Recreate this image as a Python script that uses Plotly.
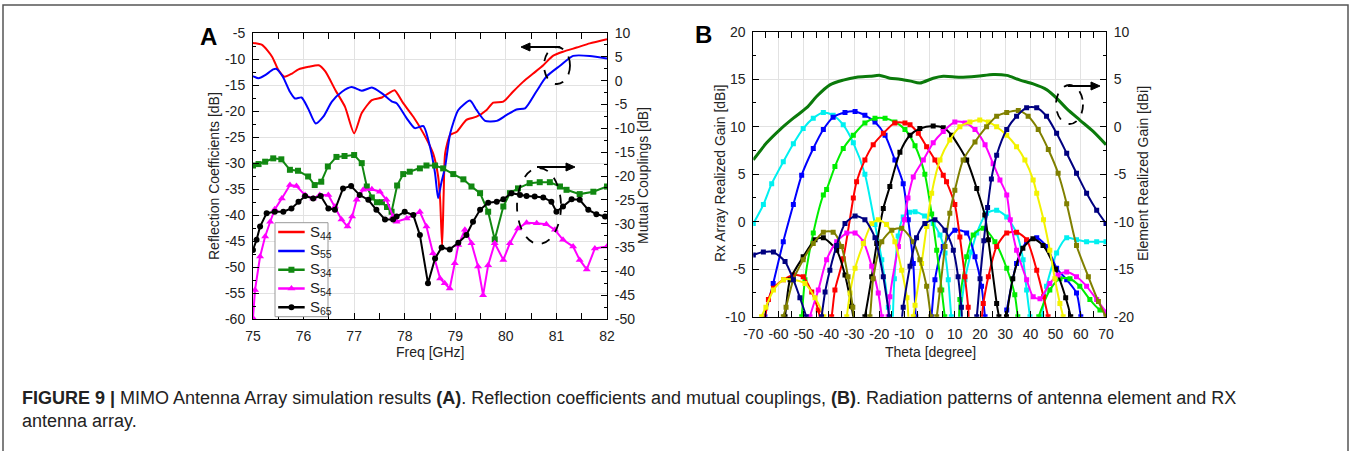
import plotly.graph_objects as go

W, H = 1351, 451

# ---------------- Panel A data ----------------
freq_s44 = [75.0,75.18,75.38,75.5,75.62,75.77,75.9,76.1,76.3,76.43,76.63,76.82,77.0,77.15,77.35,77.55,77.68,77.8,77.97,78.17,
            78.37,78.56,78.66,78.70,78.74,78.77,78.8,78.9,79.03,79.22,79.42,79.62,79.75,79.95,80.14,80.34,80.54,80.74,80.93,81.13,
            81.4,81.66,82.0]
s44 = [-6.9,-7.3,-9.6,-12.1,-13.4,-12.8,-12.0,-11.5,-11.2,-12.4,-16.0,-19.2,-24.3,-20.4,-17.9,-17.4,-16.6,-16.0,-18.5,-21.1,
       -24.3,-28.1,-32.5,-37.0,-46.0,-36.0,-28.1,-24.6,-24.0,-21.7,-21.1,-19.8,-18.4,-18.2,-16.3,-14.4,-12.8,-11.2,-9.4,-8.6,
       -7.8,-7.0,-6.2]

freq_s55 = [75.0,75.11,75.24,75.4,75.46,75.59,75.73,75.83,75.96,76.09,76.24,76.39,76.56,76.76,76.95,77.15,77.35,77.55,77.75,77.84,
            78.04,78.2,78.37,78.5,78.6,78.66,78.72,78.8,78.9,79.06,79.29,79.42,79.59,79.82,80.01,80.21,80.38,80.6,80.8,81.07,
            81.33,81.66,82.0]
s55 = [-13.3,-13.7,-13.1,-12.0,-11.9,-13.4,-16.3,-17.6,-17.4,-19.5,-22.4,-21.1,-18.2,-16.3,-15.4,-16.1,-15.5,-16.6,-18.2,-18.5,
       -21.4,-23.3,-22.9,-26.9,-32.0,-36.8,-34.0,-30.7,-24.3,-19.8,-18.0,-19.8,-21.9,-21.9,-20.8,-19.7,-19.5,-16.3,-13.4,-11.3,
       -9.4,-9.4,-9.9]

freq_s34 = [75.0,75.11,75.24,75.4,75.56,75.73,75.89,76.09,76.22,76.35,76.48,76.65,76.81,77.0,77.15,77.25,77.35,77.45,77.55,77.65,
            77.74,77.85,77.97,78.1,78.3,78.43,78.6,78.76,78.96,79.16,79.32,79.49,79.65,79.78,79.95,80.08,80.24,80.47,80.67,80.87,
            81.07,81.2,81.46,81.73,82.0]
s34 = [-17.8,-17.5,-17.0,-16.3,-16.5,-18.7,-18.9,-20.1,-21.9,-21.2,-18.0,-16.0,-15.8,-15.6,-17.3,-22.2,-24.5,-25.5,-25.5,-26.5,
       -27.5,-22.0,-19.6,-19.1,-18.4,-17.8,-17.8,-18.4,-19.6,-20.7,-22.2,-23.6,-27.5,-33.3,-26.4,-23.6,-22.6,-21.5,-21.3,-21.3,
       -22.2,-22.9,-23.8,-23.3,-22.2]

freq_s54 = [75.0,75.04,75.14,75.24,75.34,75.43,75.57,75.73,75.86,76.03,76.19,76.32,76.49,76.62,76.75,76.87,76.96,77.05,77.18,77.35,
            77.51,77.64,77.77,77.84,78.04,78.3,78.43,78.56,78.7,78.79,78.89,78.99,79.06,79.19,79.32,79.45,79.55,79.65,79.78,79.95,
            80.08,80.24,80.41,80.61,80.8,80.97,81.13,81.33,81.46,81.6,81.76,82.0]
s54 = [-49.8,-43.9,-36.9,-32.7,-29.6,-27.0,-24.7,-21.9,-22.1,-24.0,-24.7,-24.0,-24.0,-26.4,-29.1,-30.6,-28.5,-25.0,-22.9,-22.8,
       -23.3,-25.0,-28.5,-29.6,-28.9,-27.5,-30.6,-36.2,-41.5,-42.5,-43.6,-38.3,-34.5,-31.3,-34.1,-39.0,-45.0,-38.7,-34.1,-37.6,
       -34.1,-31.0,-29.8,-29.9,-30.1,-31.3,-33.4,-34.8,-37.6,-39.6,-35.2,-34.8]

freq_s65 = [75.0,75.07,75.14,75.27,75.43,75.6,75.76,75.9,76.03,76.19,76.34,76.49,76.62,76.78,76.94,77.11,77.28,77.44,77.61,77.77,
            77.84,78.0,78.17,78.3,78.46,78.6,78.73,78.89,79.06,79.22,79.35,79.49,79.65,79.82,79.95,80.11,80.28,80.41,80.57,80.74,
            80.9,81.0,81.13,81.3,81.46,81.63,81.79,81.96]
s65 = [-35.5,-33.4,-30.6,-27.8,-27.5,-27.5,-26.8,-25.4,-24.2,-24.7,-24.2,-26.8,-27.1,-22.6,-22.1,-24.0,-25.0,-27.1,-29.1,-29.1,
       -28.5,-27.5,-28.2,-32.4,-42.5,-37.3,-35.0,-35.4,-34.0,-32.4,-29.6,-27.1,-25.6,-25.4,-24.9,-23.6,-24.0,-24.2,-24.3,-24.5,
       -25.4,-27.5,-26.4,-24.9,-25.0,-27.1,-28.0,-28.5]

legend_names = ["S<sub>44</sub>", "S<sub>55</sub>", "S<sub>34</sub>", "S<sub>54</sub>", "S<sub>65</sub>"]

# tick values (labels use a plain hyphen-minus as in the reference)
freq_ticks = [75, 76, 77, 78, 79, 80, 81, 82]
refl_ticks = [-60, -55, -50, -45, -40, -35, -30, -25, -20, -15, -10, -5]
coup_ticks = [-50, -45, -40, -35, -30, -25, -20, -15, -10, -5, 0, 5, 10]
theta_ticks = [-70, -60, -50, -40, -30, -20, -10, 0, 10, 20, 30, 40, 50, 60, 70]
array_ticks = [-10, -5, 0, 5, 10, 15, 20]
elem_ticks = [-20, -15, -10, -5, 0, 5, 10]

# ---------------- Panel B data ----------------
cyan_t = [-70,-66,-62.7,-58.1,-54.1,-50.2,-46.2,-42.2,-38.3,-34.3,-30.3,-25.7,-21.7,-19,-16.4,-15.2,-14,-12.5,-10.5,-8,
          -5.8,-2,1.4,4.1,6.1,7.4,8.6,9.8,11,12.5,14,16.5,18.7,22.6,26.6,30.6,34.5,37.1,38.5,39.8,
          41.5,43,44.5,46.4,50.4,54.4,58.3,62.3,66.3,70]
cyan_g = [-0.2,1.8,4.0,6.3,8.2,9.8,10.9,11.5,11.2,10.2,8.3,5.0,-0.3,-4.0,-9.0,-13,-6,-1.5,0.5,1.0,
          1.05,0.6,-0.2,-1.4,-3.3,-6.1,-10,-13,-13,-9,-6.1,-3.2,-1.2,0.9,1.2,0.5,-1.2,-4.0,-7.2,-10,
          -13,-13,-10,-6.8,-3.3,-1.7,-1.9,-2.1,-2.1,-2.1]

blue_t = [-67,-65.4,-62.1,-58.1,-54.1,-50.8,-46.2,-42.2,-38.3,-33.6,-29.6,-25.7,-21.7,-17.7,-13.8,-10.5,-8.5,-6.5,-5.5,-4,
          -1,0.7,2.1,5.4,10,14.7,18,20.6,22,24,28,30.6,34.5,38.5,42.5,46.4,50.4,54.4,58.3,60,62]
blue_g = [-13,-10,-6.5,-2.1,1.8,4.9,7.7,9.7,11.0,11.5,11.6,11.2,10.5,9.1,6.5,4.0,0.2,-4.4,-10,-13,
          -13,-10,-6.1,-2.6,-0.9,-1.2,-3.7,-6.8,-10,-13,-13,-9.3,-4.4,-2.1,-1.7,-2.6,-4.9,-6.1,-7.5,-10,-13]

lime_t = [-52,-50.8,-49.5,-46.2,-42.2,-40.9,-37.6,-34.3,-30.3,-25.7,-21.7,-17.7,-13.8,-9.8,-5.8,-1.9,0.8,2.8,4.8,6,
          7.5,10.5,12,14.7,17.3,21.3,25.9,30.6,33.8,35,37,41.5,43.3,47.7,51.7,55.7,59.6,63.6,67.6,70]
lime_g = [-13,-10,-6.1,-1.2,2.8,3.4,5.8,7.7,9.1,10.4,10.9,10.9,10.5,9.7,8.0,5.0,0.8,-3.0,-7.2,-10,
          -13,-13,-8.2,-3.7,-1.4,-0.7,-2.1,-4.9,-7.7,-10,-13,-13,-10,-7.2,-6.0,-6.0,-6.8,-8.2,-9.3,-9.6]

red_t = [-67,-64,-62,-58,-54.1,-50.2,-46.8,-44.2,-43,-41,-38.9,-37.6,-34.3,-30.3,-29,-25.7,-22.4,-18.4,-13.8,-9.8,
         -7.8,-4.5,-1.2,2.1,5.4,6.7,10,12,14,15.3,16.5,19,21.3,23.3,26.6,30.6,34.5,38.5,42.5,45.2,47,49]
red_g = [-13,-8.2,-7.0,-6.1,-5.6,-5.8,-7.4,-9.3,-11,-13,-10,-7.2,-3.9,2.5,4.2,6.5,8.1,9.3,10.4,10.4,
         10.2,9.3,7.9,6.5,4.9,4.2,1.8,-1.6,-5.8,-9.0,-13,-13,-8.6,-5.8,-2.6,-1.2,-1.1,-1.9,-5.1,-7.9,-10,-13]

black_t = [-59,-57.4,-55.4,-50.2,-45.5,-42.2,-36.9,-33.6,-31,-30,-28,-25.7,-23,-21,-18.4,-15.8,-11.8,-7.8,-3.9,1.4,
           5.4,8.7,14.7,18.7,21.9,23.3,26.6,27.5,29,30.5,33,37,41,45,50,54,56,58]
black_g = [-13,-10,-6.1,-3.7,-1.9,-1.7,-3.0,-5.6,-8.9,-10.5,-13,-10,-5.8,-2.3,1.4,3.7,7.3,9.1,9.8,10.07,
           9.9,9.1,6.5,3.5,0.7,-1.9,-8.6,-10,-13,-10,-6,-2.8,-1.8,-2.5,-5,-8,-10,-13]

mag_t = [-49,-47.5,-44.2,-40.9,-36.9,-32.9,-29.6,-26.3,-23,-20.4,-19,-17.7,-16.5,-15.8,-12.4,-10,-8.6,-6.5,-2.5,1.4,
         5.4,10,14,18,22,25.2,27.9,30.6,32,34.5,38.5,41.1,43.8,47.7,51,54.4,58.3,62.3,66.3,70]
mag_g = [-13,-10,-7.2,-4.0,-2.1,-1.2,-1.2,-2.1,-4.7,-7.5,-10,-13,-10,-7.9,-2.6,0.2,2.5,4.7,6.5,8.3,
         9.5,10.5,10.4,9.7,8.1,6.1,4.4,2.8,0.2,-3.0,-6.1,-7.9,-8.1,-6.5,-5.6,-5.3,-5.8,-6.8,-8.2,-9.5]

yel_t = [-68.5,-66.7,-65,-62,-58,-54.1,-49.5,-45.5,-42,-40,-34.5,-32.9,-31.6,-29.6,-26.3,-23,-20.4,-17.1,-13.8,-11.1,
         -9,-7.8,-6.5,-5.8,-3.2,-1.2,0.8,4.1,8,12,16,19.9,23.3,26.6,30.6,34.5,37.8,41.1,42.5,45.2,
         47.7,49.7,51.7,53,55]
yel_g = [-13,-10,-9,-7.2,-6.1,-6.1,-6.5,-8.0,-10,-13,-13,-10,-7.5,-4.9,-2.3,-0.2,0.2,-0.3,-2.1,-5.1,
         -8,-12,-10,-8.8,-4.4,-0.5,3.0,6.5,8.6,10.0,10.5,10.7,10.5,10.0,9.1,7.9,6.5,4.4,3.0,0.2,
         -3.0,-6.0,-8.6,-10,-13]

olive_t = [-60,-58.1,-57,-54.1,-50.2,-46.2,-42.2,-38.3,-35,-32.4,-30.5,-29,-26,-23.7,-22.4,-19,-15,-11.1,-6.5,-3.9,
           -1.2,0.5,1.7,2.8,4.1,6.1,8,10,13.3,18,22.6,26.6,30.6,35.2,39.1,43.1,47.1,51,54.4,58.3,63,67,70]
olive_g = [-13,-10,-9,-6.1,-4.0,-2.3,-1.1,-1.1,-2.6,-5.8,-9,-12,-13,-10,-6,-2.1,-0.9,-0.7,-2.1,-4.0,
           -6.8,-10,-11.5,-10,-7.2,-2.6,0.9,3.3,6.5,8.4,10.0,11.1,11.5,11.7,11.1,9.7,7.6,5.1,1.9,-2.5,-5.8,-8.4,-10]

navy_t = [-70,-66,-62,-57.4,-54.1,-51.5,-49,-47,-44.5,-42.9,-41.5,-39.6,-36.9,-33.6,-29.6,-25.7,-21.7,-18.4,-16,-14.5,
          -12,-10.5,-7.8,-5.2,-1.9,2.1,6.1,9.4,11.3,12.6,14,17,18.7,20,21.5,23,24.5,26.6,30.6,34.5,
          38.5,42.5,46.4,50.4,54.4,58.3,62.3,66.3,70]
navy_g = [-3.5,-3.2,-3.2,-4.2,-6.1,-8.0,-10,-13,-13,-10,-7.4,-5.1,-2.5,-0.2,0.6,0.2,-1.7,-5.8,-10,-13,
          -12,-9,-4.7,-1.7,-0.2,0.2,-0.9,-3.0,-5.8,-9,-13,-13,-10,-6.0,-2.0,1.5,4.5,7.0,9.7,11.1,
          12.0,12.0,11.1,9.3,7.2,5.1,3.0,1.2,-0.2]

elem_t = [-70,-64.7,-59.4,-54.1,-48.8,-44.8,-39.6,-34.3,-29,-23.7,-19.7,-15.8,-11.8,-7.5,-3.9,1.4,5.4,12,18.7,25.2,
          30.6,35.9,41.1,46.4,50.4,54.4,59.6,64.9,70]
elem_g = [-3.5,-1.7,-0.3,0.9,2.0,3.2,4.4,4.9,5.2,5.3,5.4,5.1,5.0,4.8,4.6,5.1,5.3,5.2,5.3,5.5,
          5.4,4.9,4.5,3.9,3.0,1.9,0.7,-0.5,-1.9]

FONT = "Liberation Sans, Arial, sans-serif"


def px(x):
    return x / W


def py(y):
    return 1 - y / H


fig = go.Figure()

# Panel A traces
a_styles = [
    (freq_s44, s44, "#FF0000", None, "y"),
    (freq_s55, s55, "#0000FF", None, "y"),
    (freq_s34, s34, "#118811", "square", "y2"),
    (freq_s54, s54, "#FF00FF", "triangle-up", "y2"),
    (freq_s65, s65, "#000000", "circle", "y2"),
]
for (fx, fy, c, sym, ya), nm in zip(a_styles, legend_names):
    if sym is None:
        fig.add_trace(go.Scatter(x=fx, y=fy, mode="lines", name=nm, showlegend=False,
                                 line=dict(color=c, width=2, shape="spline", smoothing=0.6), xaxis="x", yaxis=ya))
    else:
        fig.add_trace(go.Scatter(x=fx, y=fy, mode="lines+markers", name=nm, showlegend=False,
                                 line=dict(color=c, width=2),
                                 marker=dict(symbol=sym, size=7 if sym == "triangle-up" else 6, color=c),
                                 xaxis="x", yaxis=ya))

# Panel B traces
beams = [
    (cyan_t, cyan_g, "#00F0F0"),
    (blue_t, blue_g, "#0000FF"),
    (lime_t, lime_g, "#00EE00"),
    (red_t, red_g, "#FF0000"),
    (black_t, black_g, "#000000"),
    (mag_t, mag_g, "#FF00FF"),
    (yel_t, yel_g, "#F2F200"),
    (olive_t, olive_g, "#808000"),
    (navy_t, navy_g, "#000080"),
]
for t, g, c in beams:
    fig.add_trace(go.Scatter(x=t, y=g, mode="lines+markers", showlegend=False,
                             line=dict(color=c, width=2, shape="spline", smoothing=0.7),
                             marker=dict(symbol="square", size=5, color=c),
                             xaxis="x2", yaxis="y3"))
fig.add_trace(go.Scatter(x=elem_t, y=elem_g, mode="lines", showlegend=False,
                         line=dict(color="#0B7A0B", width=3, shape="spline", smoothing=0.8),
                         xaxis="x2", yaxis="y4"))

# Legend drawn on its own hidden axes (box inside panel A)
leg_rows = [0.9, 0.7, 0.5, 0.3, 0.1]
for (fx, fy, c, sym, ya), nm, ry in zip(a_styles, legend_names, leg_rows):
    fig.add_trace(go.Scatter(x=[0.06, 0.56], y=[ry, ry], mode="lines", showlegend=False, hoverinfo="skip",
                             line=dict(color=c, width=2.5), xaxis="x3", yaxis="y5"))
    if sym is not None:
        fig.add_trace(go.Scatter(x=[0.31], y=[ry], mode="markers", showlegend=False, hoverinfo="skip",
                                 marker=dict(symbol=sym, size=7 if sym == "triangle-up" else 6, color=c),
                                 xaxis="x3", yaxis="y5"))

tickfont = dict(family=FONT, size=14, color="#222")
common = dict(ticks="inside", ticklen=6, tickcolor="black", showline=True, linecolor="black", linewidth=1,
              zeroline=False, tickfont=tickfont, ticklabelstandoff=4, automargin=False, tickangle=0)


def ticks(vals):
    return dict(tickmode="array", tickvals=vals, ticktext=[str(v) for v in vals])


fig.update_layout(
    template="none",
    width=W, height=H, autosize=False,
    margin=dict(l=0, r=0, t=0, b=0, pad=0),
    paper_bgcolor="white", plot_bgcolor="white",
    font=dict(family=FONT, color="#222"),
    showlegend=False,
    xaxis=dict(domain=[px(253), px(607)], range=[75, 82], anchor="y", **ticks(freq_ticks),
               mirror="allticks", showgrid=True, gridcolor="#e2e2e2",
               minor=dict(ticks="inside", ticklen=3, dtick=0.5, tickcolor="black", showgrid=False), **common),
    yaxis=dict(domain=[py(319), py(33)], range=[-60, -5], anchor="x", **ticks(refl_ticks),
               showgrid=True, gridcolor="#e2e2e2",
               minor=dict(ticks="inside", ticklen=3, dtick=2.5, tickcolor="black", showgrid=False), **common),
    yaxis2=dict(overlaying="y", side="right", anchor="x", range=[-50, 10], **ticks(coup_ticks), showgrid=False,
                minor=dict(ticks="inside", ticklen=3, dtick=2.5, tickcolor="black", showgrid=False), **common),
    xaxis2=dict(domain=[px(753.3), px(1106)], range=[-70, 70], anchor="y3", **ticks(theta_ticks),
                mirror="allticks", showgrid=True, gridcolor="#e2e2e2",
                minor=dict(ticks="inside", ticklen=3, dtick=5, tickcolor="black", showgrid=False), **common),
    yaxis3=dict(domain=[py(316.7), py(31.7)], range=[-10, 20], anchor="x2", **ticks(array_ticks),
                showgrid=True, gridcolor="#e2e2e2",
                minor=dict(ticks="inside", ticklen=3, dtick=2.5, tickcolor="black", showgrid=False), **common),
    yaxis4=dict(overlaying="y3", side="right", anchor="x2", range=[-20, 10], **ticks(elem_ticks), showgrid=False,
                minor=dict(ticks="inside", ticklen=3, dtick=2.5, tickcolor="black", showgrid=False), **common),
    xaxis3=dict(domain=[px(275), px(328)], range=[0, 1], anchor="y5", visible=False, fixedrange=True),
    yaxis5=dict(domain=[py(316.7), py(222.7)], range=[0, 1], anchor="x3", visible=False, fixedrange=True),
)

ann = []
titlefont = dict(family=FONT, size=14, color="#222")
ann.append(dict(text="Reflection Coefficients [dB]", x=px(214), y=py(176), textangle=-90, font=titlefont))
ann.append(dict(text="Mutual Couplings [dB]", x=px(643), y=py(176), textangle=-90, font=titlefont))
ann.append(dict(text="Freq [GHz]", x=px(430), y=py(352), font=titlefont))
ann.append(dict(text="Rx Array Realized Gain [dBi]", x=px(720), y=py(174), textangle=-90, font=titlefont))
ann.append(dict(text="Element Realized Gain [dBi]", x=px(1143), y=py(174), textangle=-90, font=titlefont))
ann.append(dict(text="Theta [degree]", x=px(930), y=py(352), font=titlefont))
ann.append(dict(text="<b>A</b>", x=px(208), y=py(36), font=dict(family=FONT, size=24, color="black")))
ann.append(dict(text="<b>B</b>", x=px(703), y=py(34), font=dict(family=FONT, size=24, color="black")))
capfont = dict(family=FONT, size=18, color="#222")
ann.append(dict(text="<b>FIGURE 9 |</b> MIMO Antenna Array simulation results <b>(A)</b>. Reflection coefficients and "
                     "mutual couplings, <b>(B)</b>. Radiation patterns of antenna element and RX",
                x=px(20), y=py(398), xanchor="left", font=capfont))
ann.append(dict(text="antenna array.", x=px(20), y=py(421), xanchor="left", font=capfont))
# legend labels
for nm, ry in zip(legend_names, leg_rows):
    ann.append(dict(text=nm, xref="x3", yref="y5", x=0.62, y=ry, xanchor="left",
                    font=dict(family=FONT, size=15, color="#222")))
for a in ann:
    a.setdefault("xref", "paper")
    a.setdefault("yref", "paper")
    a.setdefault("showarrow", False)
    a.setdefault("xanchor", "center")
    a.setdefault("yanchor", "middle")
fig.update_layout(annotations=ann)

shapes = []
# legend box
shapes.append(dict(type="rect", xref="paper", yref="paper", x0=px(275), x1=px(328), y0=py(316.7), y1=py(222.7),
                   line=dict(color="#999999", width=1), layer="above"))
# dashed ellipses
for (x0, y0, x1, y1) in [(544, 47, 570, 84), (517, 168, 561, 244), (1056, 85, 1083, 124)]:
    shapes.append(dict(type="circle", xref="paper", yref="paper", x0=px(x0), x1=px(x1), y0=py(y1), y1=py(y0),
                       line=dict(color="black", width=1.8, dash="dash")))
# arrows (shaft + head) pointing to the axis each group belongs to
for (tail, head, yy) in [(560, 521, 47), (537, 575, 167), (1068, 1100, 86)]:
    d = 1 if head > tail else -1
    base = head - d * 9
    shapes.append(dict(type="line", xref="paper", yref="paper", x0=px(tail), x1=px(base), y0=py(yy), y1=py(yy),
                       line=dict(color="black", width=2)))
    path = "M {} {} L {} {} L {} {} Z".format(px(head), py(yy), px(base), py(yy - 4), px(base), py(yy + 4))
    shapes.append(dict(type="path", xref="paper", yref="paper", path=path, fillcolor="black",
                       line=dict(color="black", width=1)))
# outer frame
shapes.append(dict(type="rect", xref="paper", yref="paper", x0=px(3), x1=px(1348), y0=-0.05, y1=py(5),
                   line=dict(color="#555555", width=1.5)))
fig.update_layout(shapes=shapes)

fig.write_html("out.html", config={"displayModeBar": False},
               post_script="document.body.style.margin='0';document.body.style.padding='0';"
                           "document.documentElement.style.overflow='hidden';")
